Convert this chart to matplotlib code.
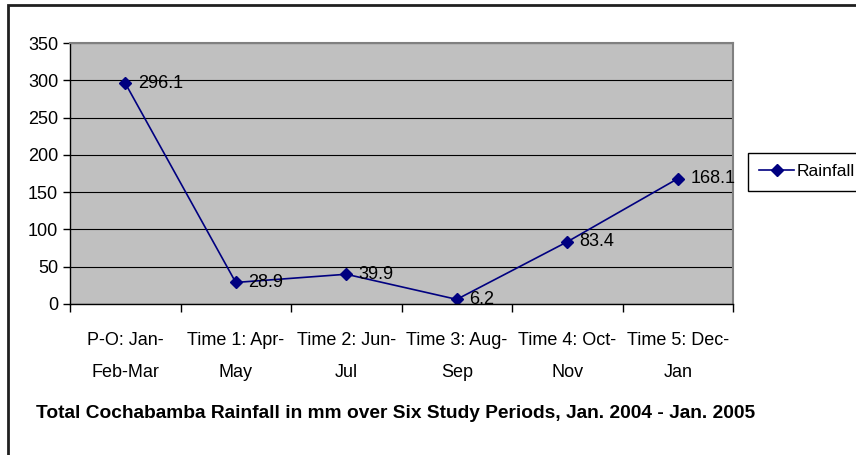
import matplotlib.pyplot as plt
from matplotlib.patches import Rectangle

plt.rcParams["font.family"] = ["Liberation Sans", "DejaVu Sans"]

periods = ["P-O: Jan-\nFeb-Mar", "Time 1: Apr-\nMay", "Time 2: Jun-\nJul",
           "Time 3: Aug-\nSep", "Time 4: Oct-\nNov", "Time 5: Dec-\nJan"]
rainfall = [296.1, 28.9, 39.9, 6.2, 83.4, 168.1]
y_ticks = [0, 50, 100, 150, 200, 250, 300, 350]

fig = plt.figure(figsize=(8.56, 4.55), dpi=100)
ax = fig.add_axes([70 / 856, 1 - 304 / 455, 663 / 856, 261 / 455])

ax.set_facecolor("#C0C0C0")
x = list(range(len(rainfall)))
line, = ax.plot(x, rainfall, color="#000080", linewidth=1.2, marker="D",
                markersize=6, label="Rainfall")

for xi, v in zip(x, rainfall):
    ax.annotate(f"{v}", (xi, v), xytext=(9, 0), textcoords="offset points",
                va="center", ha="left", fontsize=13)

ax.set_xlim(-0.5, len(rainfall) - 0.5)
ax.set_ylim(0, 350)
ax.set_yticks(y_ticks)
ax.tick_params(axis="y", labelsize=13, direction="out", length=5, width=1)
ax.yaxis.grid(True, color="black", linewidth=0.8)
ax.set_axisbelow(True)

# category boundaries get tick marks, labels sit in the middle
ax.set_xticks([i - 0.5 for i in range(len(rainfall) + 1)])
ax.set_xticklabels([])
ax.tick_params(axis="x", direction="out", length=6, width=1)
ax.set_xticks(x, minor=True)
ax.set_xticklabels(periods, minor=True, fontsize=13, linespacing=2.2)
ax.tick_params(axis="x", which="minor", length=0, pad=20)

for s in ["top", "right"]:
    ax.spines[s].set_color("#808080")
    ax.spines[s].set_linewidth(1.5)
for s in ["left", "bottom"]:
    ax.spines[s].set_color("black")
    ax.spines[s].set_linewidth(1)

fig.text(396 / 856, 1 - 414 / 455,
         "Total Cochabamba Rainfall in mm over Six Study Periods, Jan. 2004 - Jan. 2005",
         ha="center", va="center", fontsize=13.8, fontweight="bold")

fig.legend(handles=[line], loc="upper left",
           bbox_to_anchor=(748 / 856, 1 - 153 / 455), fontsize=12.5,
           frameon=True, fancybox=False, edgecolor="black", framealpha=1,
           borderpad=0.65, borderaxespad=0, handlelength=2.0,
           handletextpad=0.15)

fig.patches.append(Rectangle((8 / 856, -0.1), 1.0, 1 - 5 / 455 + 0.1,
                             transform=fig.transFigure, fill=False,
                             edgecolor="#202020", linewidth=2))

plt.savefig("out.png", dpi=100)
